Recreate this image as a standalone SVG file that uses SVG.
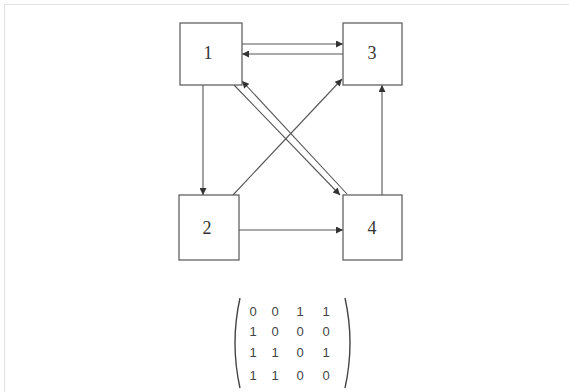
<svg xmlns="http://www.w3.org/2000/svg" width="569" height="392" viewBox="0 0 569 392">
<style>
.box{fill:#fff;stroke:#555;stroke-width:1.2}
.lbl{font-family:"Liberation Serif",serif;font-size:18px;fill:#333;text-anchor:middle}
.e{stroke:#555;stroke-width:1.1;fill:none;marker-end:url(#ah)}
.m{font-family:"Liberation Sans",sans-serif;font-size:13px;fill:#444;text-anchor:middle}
.p{stroke:#444;stroke-width:1.4;fill:none}
</style>
<defs>
<marker id="ah" viewBox="0 0 10 10" refX="10" refY="5" markerWidth="9" markerHeight="7" markerUnits="userSpaceOnUse" orient="auto">
<path d="M0,0 L10,5 L0,10 z" fill="#333"/>
</marker>
</defs>
<rect x="4.5" y="4.5" width="580" height="400" fill="#fff" stroke="#e2e2e2"/>
<g id="connectors">
<line class="e" x1="242" y1="44" x2="343" y2="44"/>
<line class="e" x1="343" y1="54" x2="242" y2="54"/>
<line class="e" x1="203" y1="85" x2="203" y2="195"/>
<line class="e" x1="239" y1="230" x2="343" y2="230"/>
<line class="e" x1="382" y1="195" x2="382" y2="85"/>
<line class="e" x1="233" y1="195" x2="342" y2="79"/>
<line class="e" x1="234" y1="85" x2="340" y2="195"/>
<line class="e" x1="347" y1="194" x2="242" y2="81"/>
</g>
<g id="n1"><rect class="box" x="180" y="23" width="62" height="62"/><text class="lbl" x="208" y="59">1</text></g>
<g id="n3"><rect class="box" x="343" y="23" width="59" height="62"/><text class="lbl" x="372" y="59">3</text></g>
<g id="n2"><rect class="box" x="179" y="195" width="60" height="65"/><text class="lbl" x="207" y="234">2</text></g>
<g id="n4"><rect class="box" x="343" y="195" width="59" height="65"/><text class="lbl" x="372" y="234">4</text></g>
<g id="matrix">
<path class="p" d="M240,298 Q230,343 240,388"/>
<path class="p" d="M345,298 Q355,343 345,388"/>
<text class="m" x="253" y="316">0</text><text class="m" x="275" y="316">0</text><text class="m" x="300" y="316">1</text><text class="m" x="326" y="316">1</text>
<text class="m" x="253" y="336">1</text><text class="m" x="275" y="336">0</text><text class="m" x="300" y="336">0</text><text class="m" x="326" y="336">0</text>
<text class="m" x="253" y="357">1</text><text class="m" x="275" y="357">1</text><text class="m" x="300" y="357">0</text><text class="m" x="326" y="357">1</text>
<text class="m" x="253" y="380">1</text><text class="m" x="275" y="380">1</text><text class="m" x="300" y="380">0</text><text class="m" x="326" y="380">0</text>
</g>
</svg>
